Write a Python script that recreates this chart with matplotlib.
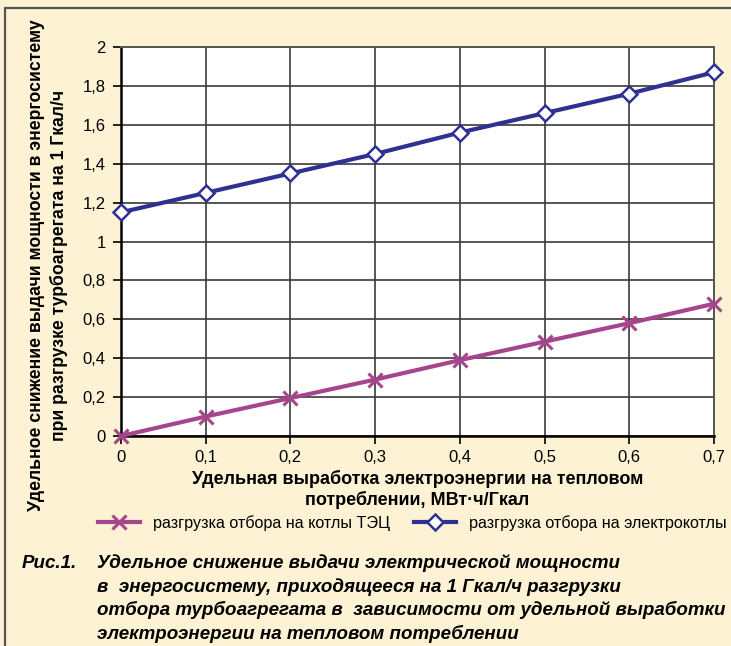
import matplotlib
matplotlib.use("Agg")
import matplotlib.pyplot as plt
from matplotlib.patches import Rectangle
from matplotlib.ticker import FuncFormatter

plt.rcParams['font.family'] = ['Liberation Sans Narrow', 'Liberation Sans', 'DejaVu Sans']

x = [0, 0.1, 0.2, 0.3, 0.4, 0.5, 0.6, 0.7]
tec = [0, 0.1, 0.195, 0.29, 0.39, 0.485, 0.58, 0.68]
electro = [1.15, 1.25, 1.35, 1.45, 1.56, 1.66, 1.76, 1.87]

xlabel = "Удельная выработка электроэнергии на тепловом\nпотреблении, МВт·ч/Гкал"
ylabel = "Удельное снижение выдачи мощности в энергосистему\nпри разгрузке турбоагрегата на 1 Гкал/ч"
names = ["разгрузка отбора на котлы ТЭЦ", "разгрузка отбора на электрокотлы"]
caption = ["Удельное снижение выдачи электрической мощности",
           "в  энергосистему, приходящееся на 1 Гкал/ч разгрузки",
           "отбора турбоагрегата в  зависимости от удельной выработки",
           "электроэнергии на тепловом потреблении"]

bg = '#fdf2d4'
W, H = 731, 646
fig = plt.figure(figsize=(W / 100, H / 100), dpi=100, facecolor=bg)
fig.patches.append(Rectangle((5 / W, -0.1), 1.2, 1 - 8 / H + 0.1, transform=fig.transFigure,
                             fill=False, edgecolor='#555555', lw=1.6))

ax = fig.add_axes([121 / W, 1 - 436 / H, (714 - 121) / W, (436 - 47) / H])
ax.set_facecolor('white')
ax.plot(x, tec, color='#a5458c', lw=3, marker='x', ms=10, mew=2.2, label=names[0], clip_on=False, zorder=3)
ax.plot(x, electro, color='#2e3192', lw=3, marker='D', ms=8, mfc='white', mew=1.8,
        label=names[1], clip_on=False, zorder=3)

ax.set_xlim(0, 0.7)
ax.set_ylim(0, 2)
ax.set_xticks(x)
ax.set_yticks([i * 0.2 for i in range(11)])
fmt = FuncFormatter(lambda v, p: ('%g' % round(v, 2)).replace('.', ','))
ax.xaxis.set_major_formatter(fmt)
ax.yaxis.set_major_formatter(fmt)
ax.grid(True, color='#3a3a3a', lw=1.2)
ax.set_axisbelow(True)
for s in ax.spines.values():
    s.set_color('#555555')
    s.set_linewidth(1.4)
ax.spines['left'].set_color('black')
ax.spines['bottom'].set_color('black')
ax.spines['left'].set_linewidth(1.8)
ax.spines['bottom'].set_linewidth(1.8)
ax.tick_params(direction='out', length=6, width=1.2, labelsize=12, colors='black')
ax.tick_params(axis='x', pad=4)
ax.tick_params(axis='y', pad=5)

ax.set_xlabel(xlabel, fontsize=13, fontweight='bold', labelpad=4, linespacing=1.2)
fig.text(48 / W, 1 - 265 / H, ylabel, rotation=90, ha='center', va='center',
         fontsize=12.7, fontweight='bold', linespacing=1.3)

fig.legend(loc='center', bbox_to_anchor=(412 / W, 1 - 523 / H), ncol=2, frameon=False,
           fontsize=11.6, handlelength=2.6, columnspacing=1.5, handletextpad=0.8,
           borderpad=0, borderaxespad=0)

fig.text(22 / W, 1 - 563 / H, "Рис.1.", fontsize=13.5, fontweight='bold', style='italic', va='center')
for i, line in enumerate(caption):
    fig.text(97 / W, 1 - (563 + i * 23.7) / H, line, fontsize=13.5, fontweight='bold',
             style='italic', va='center')

fig.savefig('out.png', dpi=100, facecolor=bg)
